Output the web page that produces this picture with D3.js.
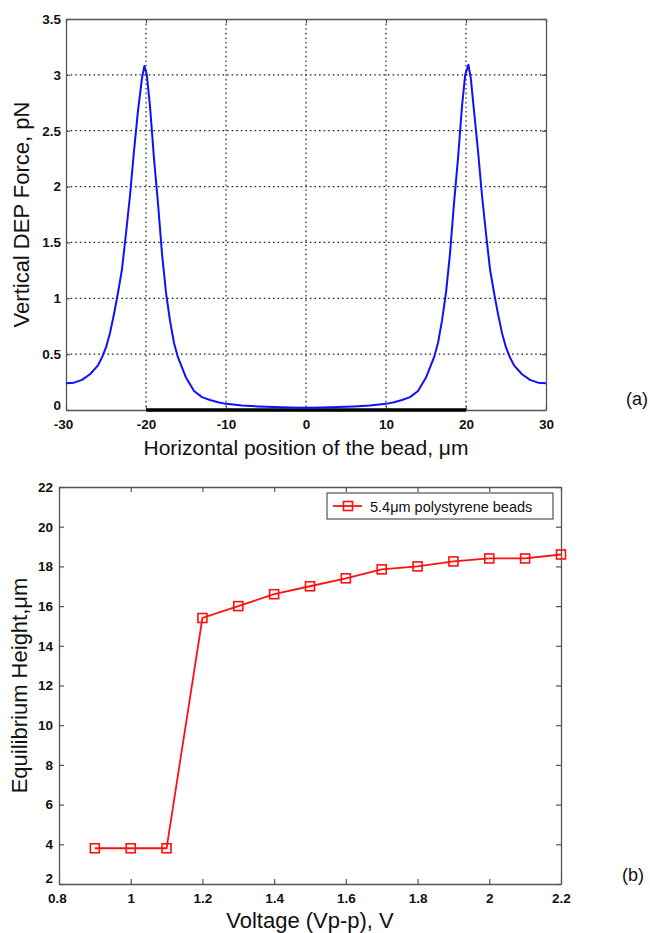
<!DOCTYPE html>
<html><head><meta charset="utf-8">
<script src="https://cdn.jsdelivr.net/npm/d3@7"></script>
<style>
body{margin:0;background:#fff;}
svg{display:block;}
text{font-family:"Liberation Sans",Arial,sans-serif;}
</style></head>
<body>
<svg id="c" width="650" height="933"></svg>
<script>
// ---- Chart (a) data ----
const positionX = [-30,-29,-28,-27,-26,-25.5,-25,-24.5,-24,-23.5,-23,-22.5,-22,-21.5,-21,-20.5,-20.2,-19.9,-19.5,-19,-18.5,-18,-17.5,-17,-16.5,-16,-15,-14,-13,-12,-11,-10,-8,-6,-4,-2,0,
  2,4,6,8,10,11,12,13,14,15,16,16.5,17,17.5,18,18.5,19,19.5,19.9,20.3,20.6,21,21.5,22,22.5,23,23.5,24,24.5,25,25.5,26,27,28,29,30];
const forcePN = [0.24,0.245,0.27,0.32,0.40,0.47,0.56,0.69,0.86,1.05,1.26,1.58,1.92,2.32,2.68,2.97,3.08,3.0,2.72,2.25,1.85,1.40,1.05,0.80,0.60,0.47,0.29,0.17,0.115,0.09,0.07,0.055,0.04,0.032,0.026,0.022,0.02,
  0.022,0.026,0.032,0.04,0.055,0.07,0.09,0.115,0.17,0.29,0.47,0.60,0.80,1.05,1.40,1.85,2.25,2.72,3.0,3.09,2.97,2.68,2.32,1.92,1.58,1.26,1.05,0.86,0.69,0.56,0.47,0.40,0.32,0.27,0.245,0.24];
const electrodeSpan = [-20, 20];
const xTicksA = [-30,-20,-10,0,10,20,30];
const yTicksA = [0,0.5,1,1.5,2,2.5,3,3.5];

// ---- Chart (b) data ----
const voltage = [0.9,1.0,1.1,1.2,1.3,1.4,1.5,1.6,1.7,1.8,1.9,2.0,2.1,2.2];
const eqHeight = [3.8,3.8,3.8,15.4,16.0,16.6,17.0,17.4,17.85,18.0,18.25,18.4,18.4,18.6];
const xTicksB = [0.8,1,1.2,1.4,1.6,1.8,2,2.2];
const yTicksB = [2,4,6,8,10,12,14,16,18,20,22];
const seriesName = "5.4\u03bcm polystyrene beads";

const svg = d3.select("#c");
const axisColor = "#555";
const tickFont = "bold 13.5px 'Liberation Sans', Arial, sans-serif";

function styleAxis(g){
  g.select(".domain").attr("stroke", axisColor).attr("stroke-width", 1.3);
  g.selectAll(".tick line").attr("stroke", axisColor).attr("stroke-width", 1.2);
  g.selectAll(".tick text").style("font", tickFont).attr("fill", "#111");
}

// ================= Chart (a) =================
{
  const L=66, R=546, T=19, B=410;
  const x = d3.scaleLinear().domain([-30,30]).range([L,R]);
  const y = d3.scaleLinear().domain([0,3.5]).range([B,T]);
  const g = svg.append("g");

  g.append("g").selectAll("line").data(xTicksA.filter(d=>d>-30&&d<30)).join("line")
    .attr("x1",d=>x(d)).attr("x2",d=>x(d)).attr("y1",T).attr("y2",B)
    .attr("stroke","#222").attr("stroke-width",1.2).attr("stroke-dasharray","1.6,3");
  g.append("g").selectAll("line").data(yTicksA.filter(d=>d>0&&d<3.5)).join("line")
    .attr("y1",d=>y(d)).attr("y2",d=>y(d)).attr("x1",L).attr("x2",R)
    .attr("stroke","#222").attr("stroke-width",1.2).attr("stroke-dasharray","1.6,3");

  const fmt = d=>String(d);
  g.append("g").attr("transform",`translate(0,${B})`)
    .call(d3.axisBottom(x).tickValues(xTicksA).tickFormat(fmt).tickSize(-4).tickSizeOuter(0).tickPadding(9))
    .call(styleAxis).call(a=>a.selectAll(".tick text").attr("dx", d=>d===-30?-3:0));
  g.append("g").attr("transform",`translate(0,${T})`)
    .call(d3.axisTop(x).tickValues(xTicksA).tickFormat("").tickSize(-4).tickSizeOuter(0))
    .call(styleAxis);
  g.append("g").attr("transform",`translate(${L},0)`)
    .call(d3.axisLeft(y).tickValues(yTicksA).tickFormat(fmt).tickSize(-4).tickSizeOuter(0).tickPadding(5))
    .call(styleAxis).call(a=>a.selectAll(".tick text").attr("dy", d=>d===0?"-0.05em":"0.32em"));
  g.append("g").attr("transform",`translate(${R},0)`)
    .call(d3.axisRight(y).tickValues(yTicksA).tickFormat("").tickSize(-4).tickSizeOuter(0))
    .call(styleAxis);

  g.append("line").attr("x1",x(electrodeSpan[0])).attr("x2",x(electrodeSpan[1]))
    .attr("y1",y(0)).attr("y2",y(0)).attr("stroke","#000").attr("stroke-width",3.5);

  const pts = positionX.map((v,i)=>[v,forcePN[i]]);
  g.append("path").datum(pts)
    .attr("d", d3.line().x(d=>x(d[0])).y(d=>y(d[1])))
    .attr("fill","none").attr("stroke","#1010ff").attr("stroke-width",2).attr("stroke-linejoin","round");

  g.append("text").attr("x",(L+R)/2).attr("y",455).attr("text-anchor","middle")
    .style("font-size","21px").attr("fill","#111").text("Horizontal position of the bead, \u03bcm");
  g.append("text").attr("transform",`translate(29,${(T+B)/2}) rotate(-90)`).attr("text-anchor","middle")
    .style("font-size","22px").attr("fill","#111").text("Vertical DEP Force, pN");
  g.append("text").attr("x",637).attr("y",405).attr("text-anchor","middle")
    .style("font-size","18px").attr("fill","#111").text("(a)");
}

// ================= Chart (b) =================
{
  const L=59, R=561, T=487, B=884;
  const x = d3.scaleLinear().domain([0.8,2.2]).range([L,R]);
  const y = d3.scaleLinear().domain([2,22]).range([B,T]);
  const g = svg.append("g");
  const fmt = d=>String(+d.toFixed(1));

  g.append("g").attr("transform",`translate(0,${B})`)
    .call(d3.axisBottom(x).tickValues(xTicksB).tickFormat(fmt).tickSize(-5).tickSizeOuter(0).tickPadding(9))
    .call(styleAxis).call(a=>a.selectAll(".tick text").attr("dx", d=>d===0.8?-2:0));
  g.append("g").attr("transform",`translate(0,${T})`)
    .call(d3.axisTop(x).tickValues(xTicksB).tickFormat("").tickSize(-5).tickSizeOuter(0))
    .call(styleAxis);
  g.append("g").attr("transform",`translate(${L},0)`)
    .call(d3.axisLeft(y).tickValues(yTicksB).tickFormat(fmt).tickSize(-5).tickSizeOuter(0).tickPadding(6))
    .call(styleAxis).call(a=>a.selectAll(".tick text").attr("dy", d=>d===2?"-0.1em":"0.32em"));
  g.append("g").attr("transform",`translate(${R},0)`)
    .call(d3.axisRight(y).tickValues(yTicksB).tickFormat("").tickSize(-5).tickSizeOuter(0))
    .call(styleAxis);

  const red = "#ff1010";
  const pts = voltage.map((v,i)=>[v,eqHeight[i]]);
  g.append("path").datum(pts)
    .attr("d", d3.line().x(d=>x(d[0])).y(d=>y(d[1])))
    .attr("fill","none").attr("stroke",red).attr("stroke-width",1.8);
  const ms = 9;
  g.append("g").selectAll("rect").data(pts).join("rect")
    .attr("x",d=>x(d[0])-ms/2).attr("y",d=>y(d[1])-ms/2).attr("width",ms).attr("height",ms)
    .attr("fill","none").attr("stroke",red).attr("stroke-width",1.6);

  const lg = g.append("g");
  lg.append("rect").attr("x",327).attr("y",493).attr("width",226).attr("height",26)
    .attr("fill","#fff").attr("stroke","#333").attr("stroke-width",1);
  lg.append("line").attr("x1",333).attr("x2",362).attr("y1",506).attr("y2",506)
    .attr("stroke",red).attr("stroke-width",1.8);
  lg.append("rect").attr("x",348-ms/2).attr("y",506-ms/2).attr("width",ms).attr("height",ms)
    .attr("fill","none").attr("stroke",red).attr("stroke-width",1.6);
  lg.append("text").attr("x",370).attr("y",511.5).style("font-size","14.5px").attr("fill","#111")
    .text(seriesName);

  g.append("text").attr("x",(L+R)/2).attr("y",928).attr("text-anchor","middle")
    .style("font-size","22px").attr("fill","#111").text("Voltage (Vp-p), V");
  g.append("text").attr("transform",`translate(27,${(T+B)/2}) rotate(-90)`).attr("text-anchor","middle")
    .style("font-size","22px").attr("fill","#111").text("Equilibrium Height,\u03bcm");
  g.append("text").attr("x",633).attr("y",881).attr("text-anchor","middle")
    .style("font-size","18px").attr("fill","#111").text("(b)");
}
</script>
</body></html>
